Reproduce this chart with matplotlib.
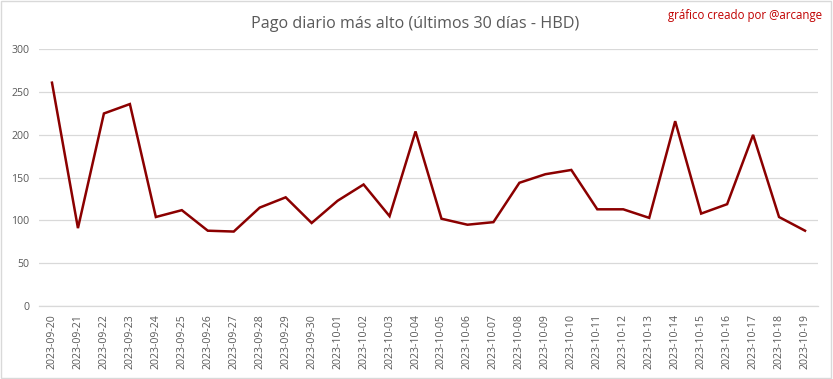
import matplotlib
matplotlib.use("Agg")
import matplotlib.pyplot as plt
from matplotlib.patches import Rectangle

# Highest daily payout, last 30 days (HBD)
dates = [
    "2023-09-20", "2023-09-21", "2023-09-22", "2023-09-23", "2023-09-24",
    "2023-09-25", "2023-09-26", "2023-09-27", "2023-09-28", "2023-09-29",
    "2023-09-30", "2023-10-01", "2023-10-02", "2023-10-03", "2023-10-04",
    "2023-10-05", "2023-10-06", "2023-10-07", "2023-10-08", "2023-10-09",
    "2023-10-10", "2023-10-11", "2023-10-12", "2023-10-13", "2023-10-14",
    "2023-10-15", "2023-10-16", "2023-10-17", "2023-10-18", "2023-10-19",
]
payout = [
    261, 91, 225, 236, 104, 112, 88, 87, 115, 127,
    97, 123, 142, 105, 204, 102, 95, 98, 144, 154,
    159, 113, 113, 103, 216, 108, 119, 200, 104, 88,
]
y_ticks = [0, 50, 100, 150, 200, 250, 300]

TEXT_GRAY = "#595959"
GRID = "#d9d9d9"
LINE = "#8b0000"

plt.rcParams["font.family"] = ["Open Sans", "DejaVu Sans"]

fig = plt.figure(figsize=(8.33, 3.79), dpi=100)
ax = fig.add_axes([39 / 833, 1 - 306 / 379, (818 - 39) / 833, (306 - 49.3) / 379])

x = list(range(len(dates)))
ax.plot(x, payout, color=LINE, linewidth=1.8, solid_joinstyle="miter")

ax.set_xlim(-0.5, len(dates) - 0.5)
ax.set_ylim(0, 300)
ax.set_yticks(y_ticks)
ax.set_xticks(x)
ax.set_xticklabels(dates, rotation=90, fontsize=7.6, color=TEXT_GRAY)
ax.set_yticklabels([str(v) for v in y_ticks], fontsize=7.6, color=TEXT_GRAY)
ax.tick_params(axis="x", length=0, pad=6)
ax.tick_params(axis="y", length=0, pad=7)
ax.grid(axis="y", color=GRID, linewidth=0.9)
ax.set_axisbelow(True)
for side in ["top", "right", "left"]:
    ax.spines[side].set_visible(False)
ax.spines["bottom"].set_color(GRID)
ax.spines["bottom"].set_linewidth(0.9)

fig.text(415 / 833, 1 - 24 / 379, "Pago diario más alto (últimos 30 días - HBD)",
         ha="center", va="center", fontsize=11.6, color=TEXT_GRAY)
fig.text(822 / 833, 1 - 15 / 379, "gráfico creado por @arcange",
         ha="right", va="center", fontsize=8.3, color="#c00000")

# light frame around the chart area
fig.patches.append(Rectangle((0.001, 0.002), 0.997, 0.995, transform=fig.transFigure,
                             fill=False, edgecolor="#d9d9d9", linewidth=1))

fig.savefig("out.png", dpi=100)
